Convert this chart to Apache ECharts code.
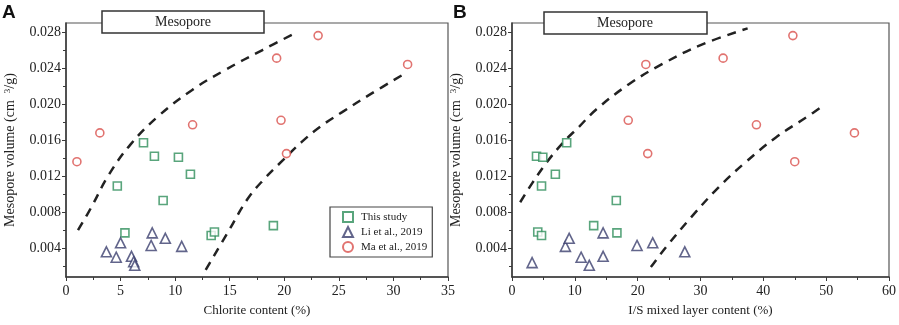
<!DOCTYPE html>
<html>
<head>
<meta charset="utf-8">
<script src="https://cdn.jsdelivr.net/npm/echarts@6/dist/echarts.min.js"></script>
<style>
  html, body { margin: 0; padding: 0; background: #fff; }
  #chart { width: 899px; height: 325px; }
</style>
</head>
<body>
<div id="chart"></div>
<script>
  // panel A: chlorite content (%) vs mesopore volume (cm3/g)
  const chloriteThis = [[4.7,0.0109],[5.4,0.0057],[7.1,0.0157],[8.1,0.0142],[8.9,0.0093],[10.3,0.0141],[11.4,0.0122],[13.3,0.0054],[13.6,0.0058],[19.0,0.0065]]
  const chloriteLi = [[3.7,0.0036],[4.6,0.0030],[5.0,0.0046],[6.0,0.0031],[6.2,0.0025],[6.3,0.0021],[7.8,0.0043],[7.9,0.0057],[9.1,0.0051],[10.6,0.0042]]
  const chloriteMa = [[1.0,0.0136],[3.1,0.0168],[11.6,0.0177],[19.3,0.0251],[19.7,0.0182],[20.2,0.0145],[23.1,0.0276],[31.3,0.0244]]
  const chloriteUpper = [[1.1,0.0060],[2.3,0.0085],[3.9,0.0121],[5.9,0.0155],[8.5,0.0187],[11.6,0.0216],[14.6,0.0238],[18.0,0.0260],[21.2,0.0280]]
  const chloriteLower = [[12.8,0.0016],[14.8,0.0057],[16.6,0.0094],[18.1,0.0116],[19.9,0.0138],[21.6,0.0158],[23.3,0.0175],[25.3,0.0191],[27.9,0.0211],[31.2,0.0235]]

  // panel B: I/S mixed layer content (%) vs mesopore volume
  const isThis = [[3.9,0.0142],[4.9,0.0141],[8.7,0.0157],[6.9,0.0122],[4.7,0.0109],[16.6,0.0093],[13.0,0.0065],[4.1,0.0058],[4.7,0.0054],[16.7,0.0057]]
  const isLi = [[3.2,0.0024],[8.5,0.0042],[9.1,0.0051],[11.0,0.0030],[12.3,0.0021],[14.5,0.0057],[14.5,0.0031],[19.9,0.0043],[22.4,0.0046],[27.5,0.0036]]
  const isMa = [[18.5,0.0182],[21.3,0.0244],[21.6,0.0145],[33.6,0.0251],[38.9,0.0177],[44.7,0.0276],[45.0,0.0136],[54.5,0.0168]]
  const isUpper = [[1.3,0.0091],[3.3,0.0113],[5.5,0.0135],[8.1,0.0157],[10.7,0.0175],[13.4,0.0194],[18.6,0.0222],[23.8,0.0244],[30.2,0.0266],[37.5,0.0284]]
  const isLower = [[22.1,0.0019],[24.5,0.0041],[28.6,0.0075],[32.8,0.0107],[37.1,0.0135],[42.0,0.0163],[47.0,0.0186],[49.7,0.0199]]

  const yLabelVals = [0.004,0.008,0.012,0.016,0.020,0.024,0.028]
  const yMinorVals = [0.002,0.006,0.010,0.014,0.018,0.022,0.026]
  const seriesNames = ['This study','Li et al., 2019','Ma et al., 2019']

  const serif = 'Liberation Serif'
  const colGreen = '#2f8f5b'
  const colNavy = '#3b3e6e'
  const colRed = '#d9504c'
  const axisCol = '#3a3a3a'

  const chart = echarts.init(document.getElementById('chart'))

  const xAxisOf = (gi, max, interval, name) => ({
    gridIndex: gi, type: 'value', min: 0, max: max, interval: interval,
    name: name, nameLocation: 'middle', nameGap: 27,
    nameTextStyle: { fontFamily: serif, fontSize: 13, color: '#222' },
    axisLine: { lineStyle: { color: axisCol, width: 1.5 } },
    axisTick: { length: 4, lineStyle: { color: axisCol } },
    minorTick: { show: true, splitNumber: 2, length: 3, lineStyle: { color: axisCol } },
    splitLine: { show: false },
    axisLabel: { fontFamily: serif, fontSize: 14, color: '#222', margin: 7 }
  })
  const yAxisOf = (gi) => ({
    gridIndex: gi, type: 'value', min: 0.0008, max: 0.029,
    name: 'Mesopore volume (cm  {sup|3}/g)', nameLocation: 'middle', nameGap: 48,
    nameTextStyle: { fontFamily: serif, fontSize: 14, color: '#222',
      rich: { sup: { fontFamily: serif, fontSize: 9, verticalAlign: 'top', padding: [0,0,6,0] } } },
    axisLine: { lineStyle: { color: axisCol, width: 1.5 } },
    axisTick: { length: 4, customValues: yLabelVals, lineStyle: { color: axisCol } },
    splitLine: { show: false },
    axisLabel: { fontFamily: serif, fontSize: 14, color: '#222', margin: 5,
      customValues: yLabelVals, formatter: v => v.toFixed(3) }
  })
  const yMinorOf = (gi) => ({
    gridIndex: gi, type: 'value', min: 0.0008, max: 0.029, position: 'left',
    axisLine: { show: false },
    axisTick: { length: 3, customValues: yMinorVals, lineStyle: { color: axisCol } },
    axisLabel: { show: false }, splitLine: { show: false }
  })

  const scatter = (name, data, gi, symbol, size, col) => ({
    name: name, type: 'scatter', data: data, xAxisIndex: gi, yAxisIndex: gi * 2,
    symbol: symbol, symbolSize: size, z: 5,
    itemStyle: { color: '#fff', borderColor: col, borderWidth: 1.6 }
  })
  const fit = (data, gi) => ({
    type: 'line', data: data, xAxisIndex: gi, yAxisIndex: gi * 2,
    smooth: 0.4, showSymbol: false, silent: true, z: 3,
    lineStyle: { color: '#222', width: 2.5, type: [9, 7] }
  })

  const option = {
    animation: false,
    backgroundColor: '#fff',
    grid: [
      { left: 66, top: 23, width: 382, height: 254, show: true, borderColor: '#555', borderWidth: 1.2 },
      { left: 512, top: 23, width: 380, height: 254, show: true, borderColor: '#555', borderWidth: 1.2 }
    ],
    xAxis: [
      xAxisOf(0, 35, 5, 'Chlorite content (%)'),
      xAxisOf(1, 60, 10, 'I/S mixed layer content (%)')
    ],
    yAxis: [yAxisOf(0), yMinorOf(0), yAxisOf(1), yMinorOf(1)],
    legend: {
      data: seriesNames, orient: 'vertical', left: 330, top: 207,
      borderColor: '#444', borderWidth: 1.2, padding: [4, 5, 4, 12],
      itemGap: 3, itemWidth: 10, itemHeight: 10,
      textStyle: { fontFamily: serif, fontSize: 11, color: '#222', padding: [0, 0, 0, 3] }
    },
    graphic: [
      { type: 'rect', z: 100, shape: { x: 102, y: 11, width: 162, height: 22 },
        style: { fill: '#fff', stroke: '#333', lineWidth: 1.5 } },
      { type: 'text', z: 101, x: 183, y: 22,
        style: { text: 'Mesopore', fontFamily: serif, fontSize: 14, fill: '#222', align: 'center', verticalAlign: 'middle' } },
      { type: 'rect', z: 100, shape: { x: 544, y: 12, width: 163, height: 22 },
        style: { fill: '#fff', stroke: '#333', lineWidth: 1.5 } },
      { type: 'text', z: 101, x: 625, y: 23,
        style: { text: 'Mesopore', fontFamily: serif, fontSize: 14, fill: '#222', align: 'center', verticalAlign: 'middle' } },
      { type: 'text', z: 101, x: 2, y: 3,
        style: { text: 'A', fontFamily: 'Liberation Sans', fontWeight: 'bold', fontSize: 19, fill: '#111' } },
      { type: 'text', z: 101, x: 453, y: 3,
        style: { text: 'B', fontFamily: 'Liberation Sans', fontWeight: 'bold', fontSize: 19, fill: '#111' } }
    ],
    series: [
      fit(chloriteUpper, 0), fit(chloriteLower, 0),
      scatter(seriesNames[0], chloriteThis, 0, 'rect', 8, colGreen),
      scatter(seriesNames[1], chloriteLi, 0, 'triangle', 10, colNavy),
      scatter(seriesNames[2], chloriteMa, 0, 'circle', 8, colRed),
      fit(isUpper, 1), fit(isLower, 1),
      scatter(seriesNames[0], isThis, 1, 'rect', 8, colGreen),
      scatter(seriesNames[1], isLi, 1, 'triangle', 10, colNavy),
      scatter(seriesNames[2], isMa, 1, 'circle', 8, colRed)
    ]
  }
  chart.setOption(option)
</script>
</body>
</html>
